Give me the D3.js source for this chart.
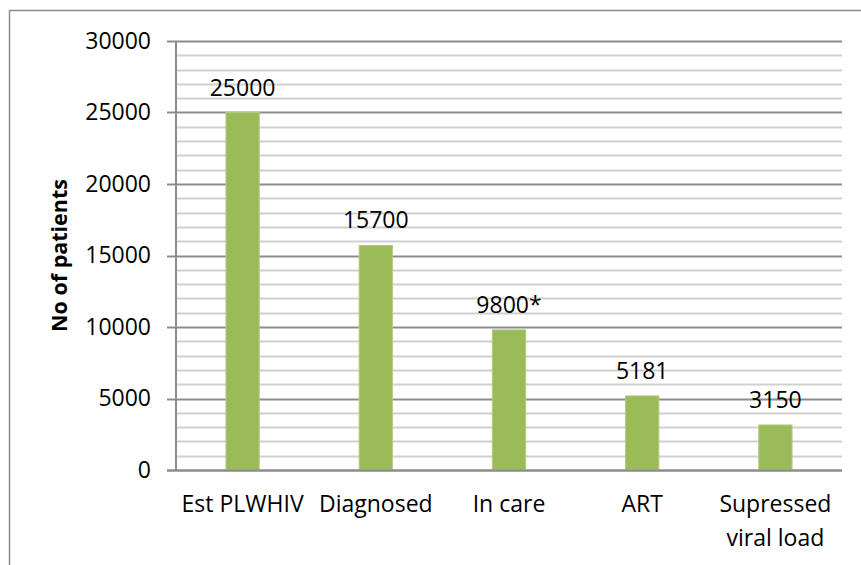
<!DOCTYPE html>
<html>
<head>
<meta charset="utf-8">
<script src="https://cdn.jsdelivr.net/npm/d3@7"></script>
<style>
  html, body { margin: 0; padding: 0; background: #fff; }
  svg { display: block; font-family: "Open Sans", sans-serif; }
</style>
</head>
<body>
<svg id="chart" width="861" height="565"></svg>
<script>
const categories = [["Est PLWHIV"], ["Diagnosed"], ["In care"], ["ART"], ["Supressed", "viral load"]];
const values = [25000, 15700, 9800, 5181, 3150];
const valueLabels = ["25000", "15700", "9800*", "5181", "3150"];
const majorTicks = [0, 5000, 10000, 15000, 20000, 25000, 30000];
const minorTicks = d3.range(0, 30001, 1000).filter(v => v % 5000 !== 0);
const yTitle = "No of patients";

const svg = d3.select("#chart");
const plotLeft = 176, plotRight = 842, plotTop = 41, plotBottom = 470;

// outer border
svg.append("rect")
  .attr("x", 9.5).attr("y", 10.5)
  .attr("width", 870).attr("height", 580)
  .attr("fill", "none").attr("stroke", "#8c8c8c").attr("stroke-width", 1.5);

const x = d3.scaleBand().domain(d3.range(categories.length)).range([plotLeft, plotRight]).paddingInner(0.75).paddingOuter(0.375);
const y = d3.scaleLinear().domain([0, 30000]).range([plotBottom, plotTop]);

// minor grid
svg.append("g").selectAll("line").data(minorTicks).join("line")
  .attr("x1", plotLeft).attr("x2", plotRight)
  .attr("y1", d => Math.round(y(d)) + 0.5).attr("y2", d => Math.round(y(d)) + 0.5)
  .attr("stroke", "#d0d0d0").attr("stroke-width", 2);

// major grid with tick marks
svg.append("g").selectAll("line").data(majorTicks).join("line")
  .attr("x1", plotLeft - 9).attr("x2", plotRight)
  .attr("y1", d => Math.round(y(d)) + 0.5).attr("y2", d => Math.round(y(d)) + 0.5)
  .attr("stroke", "#8c8c8c").attr("stroke-width", 2);

// y axis line
svg.append("line")
  .attr("x1", plotLeft).attr("x2", plotLeft).attr("y1", plotTop).attr("y2", plotBottom)
  .attr("stroke", "#8c8c8c").attr("stroke-width", 2);

// y tick labels
const yAxis = d3.axisLeft(y).tickValues(majorTicks).tickSize(0).tickPadding(25).tickFormat(d3.format("d"));
const yg = svg.append("g").attr("transform", `translate(${plotLeft},0)`).call(yAxis);
yg.select(".domain").remove();
yg.selectAll("text").attr("font-size", 23).attr("font-family", "Open Sans").attr("fill", "#000");

// bars
svg.append("g").selectAll("rect").data(values).join("rect")
  .attr("x", (d, i) => x(i)).attr("width", x.bandwidth())
  .attr("y", d => y(d)).attr("height", d => y(0) - y(d))
  .attr("fill", "#9bbb59").attr("stroke", "#b3cc85").attr("stroke-width", 1);

// redraw baseline above bars
svg.append("line")
  .attr("x1", plotLeft - 9).attr("x2", plotRight).attr("y1", Math.round(y(0)) + 0.5).attr("y2", Math.round(y(0)) + 0.5)
  .attr("stroke", "#8c8c8c").attr("stroke-width", 2);

// value labels
svg.append("g").selectAll("text").data(values).join("text")
  .attr("x", (d, i) => x(i) + x.bandwidth() / 2)
  .attr("y", d => y(d) - 17)
  .attr("text-anchor", "middle").attr("font-size", 23).attr("fill", "#000")
  .text((d, i) => valueLabels[i]);

// category labels
const cg = svg.append("g").selectAll("text").data(categories).join("text")
  .attr("x", (d, i) => x(i) + x.bandwidth() / 2)
  .attr("y", 512)
  .attr("text-anchor", "middle").attr("font-size", 23).attr("fill", "#000");
cg.selectAll("tspan").data(d => d).join("tspan")
  .attr("x", function() { return d3.select(this.parentNode).attr("x"); })
  .attr("dy", (d, i) => i === 0 ? 0 : 34)
  .text(d => d);

// y title
svg.append("text")
  .attr("transform", `translate(67,${(plotTop + plotBottom) / 2}) rotate(-90)`)
  .attr("text-anchor", "middle").attr("font-size", 21.5).attr("font-weight", "bold").attr("fill", "#000")
  .text(yTitle);
</script>
</body>
</html>
